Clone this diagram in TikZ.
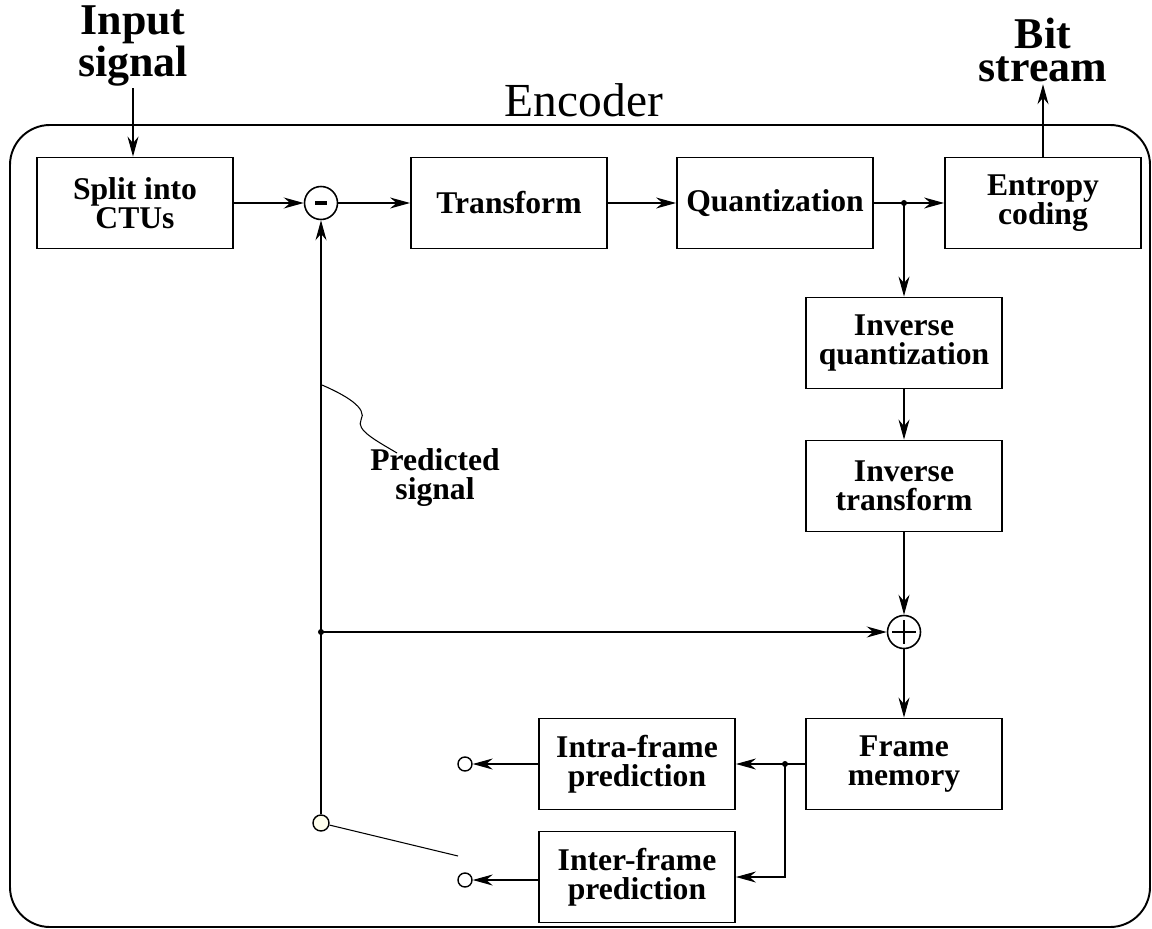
\documentclass[tikz,border=0pt]{standalone}
\usepackage{fontspec}
\setmainfont{Liberation Serif}
\usetikzlibrary{positioning,arrows.meta}

\definecolor{pivotfill}{RGB}{255,255,238}

\begin{document}
\begin{tikzpicture}[x=0.02cm, y=-0.02cm,
    block/.style={draw, line width=1.1pt, minimum width=3.92cm, minimum height=1.82cm,
      align=center, inner sep=1pt, font=\fontsize{18}{16.5}\selectfont\bfseries},
    sum/.style={draw, circle, line width=0.9pt, minimum size=0.66cm, inner sep=0pt},
    port/.style={draw, circle, line width=0.8pt, fill=white, minimum size=0.28cm, inner sep=0pt},
    title/.style={align=center, inner sep=1pt, font=\fontsize{25}{19}\selectfont\bfseries},
    flow/.style={-{Stealth[length=0.4cm, width=0.22cm, inset=0.13cm]}, line width=0.6pt}]
    \useasboundingbox (0,0) rectangle (1152,929);

    % Encoder frame
    \draw[line width=1.1pt, rounded corners=0.8cm] (10,125) rectangle (1150,927);
    \node[anchor=base, font=\fontsize{27}{27}\selectfont] (encoder) at (584,117) {Encoder};

    % Blocks
    \node[block] (split) at (135,203) {Split into\\CTUs};
    \node[block] (transform) at (509,203) {Transform};
    \node[block] (quant) at (775,203) {Quantization};
    \node[block] (entropy) at (1043,203) {Entropy\\coding};
    \node[block] (iquant) at (904,343) {Inverse\\quantization};
    \node[block] (itrans) at (904,486) {Inverse\\transform};
    \node[block] (memory) at (904,764) {Frame\\memory};
    \node[block] (intra) at (637,764) {Intra-frame\\prediction};
    \node[block] (inter) at (637,877) {Inter-frame\\prediction};

    % Adders
    \node[sum] (minus) at (321,203) {};
    \fill (minus.center) ++(-6,-2) rectangle ++(12,4);
    \node[sum] (plus) at (904,632) {};
    \draw[line width=1.4pt] (plus.center) ++(-12,0) -- ++(24,0);
    \draw[line width=1.4pt] (plus.center) ++(0,-12) -- ++(0,24);

    % Input and output
    \node[title] (input) at (133,46) {Input\\signal};
    \node[title] (bits) at (1043,50) {Bit\\stream};
    \draw[flow] (input.south) -- (input.south |- split.north);
    \draw[flow] (entropy) -- (bits);

    % Forward path
    \coordinate (tap) at (904,203);
    \draw[flow] (split) -- (minus);
    \draw[flow] (minus) -- (transform);
    \draw[flow] (transform) -- (quant);
    \draw[flow] (quant) -- (entropy);
    \fill (tap) circle (3);
    \draw[flow] (tap) -- (iquant);
    \draw[flow] (iquant) -- (itrans);
    \draw[flow] (itrans) -- (plus);
    \draw[flow] (plus) -- (memory);

    % Prediction loop
    \coordinate (fork) at (785,764);
    \draw[flow] (memory) -- (intra);
    \fill (fork) circle (3);
    \draw[flow] (fork) |- (inter);
    \node[port] (intraout) at (465,764) {};
    \node[port] (interout) at (465,880) {};
    \draw[flow] (intra) -- (intraout);
    \draw[flow] (inter.west |- interout) -- (interout);

    % Switch and feedback
    \node[port, fill=pivotfill, minimum size=0.32cm] (pivot) at (321,823) {};
    \coordinate (swend) at (458,856);
    \draw[line width=0.6pt] (pivot) -- (swend);
    \coordinate (feed) at (321,632);
    \draw[flow] (pivot) -- (minus);
    \fill (feed) circle (3);
    \draw[flow] (feed) -- (plus);

    % Label of the predicted signal
    \coordinate (pick) at (322,385);
    \node[align=center, inner sep=1pt, font=\fontsize{18}{16.5}\selectfont\bfseries] (predicted) at (435,478) {Predicted\\signal};
    \draw[line width=0.6pt] (pick) .. controls (345,395) and (368,408) .. (361,420)
      .. controls (356,430) and (375,440) .. (397,453);
  \end{tikzpicture}
\end{document}
